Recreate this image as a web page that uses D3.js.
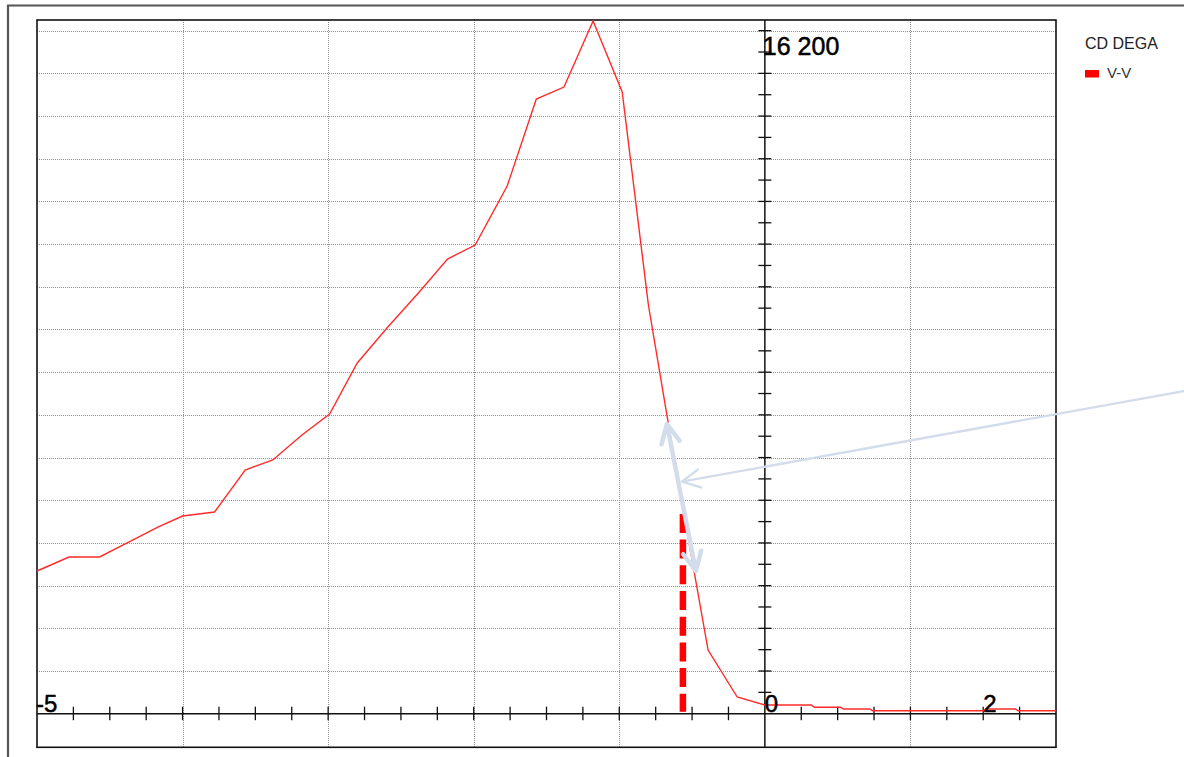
<!DOCTYPE html>
<html><head><meta charset="utf-8">
<script src="https://cdn.jsdelivr.net/npm/d3@7/dist/d3.min.js"></script>
<style>
body{margin:0;background:#fff;}
svg{display:block;font-family:"Liberation Sans",Arial,sans-serif;}
</style>
</head><body>
<svg id="chart" width="1184" height="757"></svg>
<script>
// ---- data ----
const legendTitle = "CD DEGA";
const seriesName = "V-V";
const xValues = [-5.00,-4.78,-4.57,-4.37,-4.17,-4.00,-3.78,-3.57,-3.38,-3.18,-2.99,-2.80,-2.59,-2.38,-2.18,-1.99,-1.77,-1.57,-1.38,-1.18,-0.98,-0.80,-0.60,-0.39,-0.19,0.00,0.32,0.34,0.52,0.54,0.72,0.74,1.50,1.52,1.72,1.74,2.00];
const yValues = [3343,3671,3671,4022,4373,4631,4725,5709,5943,6528,7020,8215,9058,9855,10651,10979,12361,14399,14680,16226,14563,9574,5521,1492,391,204,204,150,150,110,110,70,70,110,110,70,70];
const xDomain = [-5, 2];
const yDomain = [-787, 16250];
const xGridValues = [-4, -3, -2, -1, 1];
const yGridValues = [1000,2000,3000,4000,5000,6000,7000,8000,9000,10000,11000,12000,13000,14000,15000,16000];
const xTickValues = [-4.75,-4.5,-4.25,-4,-3.75,-3.5,-3.25,-3,-2.75,-2.5,-2.25,-2,-1.75,-1.5,-1.25,-1,-0.75,-0.5,-0.25,0.25,0.5,0.75,1,1.25,1.5,1.75];
const yTickValues = [500,1000,1500,2000,2500,3000,3500,4000,4500,5000,5500,6000,6500,7000,7500,8000,8500,9000,9500,10000,10500,11000,11500,12000,12500,13000,13500,14000,14500,15000,15500,16000];
const xTickLabels = ["-5", "0", "2"];
const xTickLabelValues = [-5, 0, 1.5];
const yTopLabel = "16 200";
const yTopLabelValue = 15420;
const markerX = -0.563;
const markerTop = 4680;
const pointerArrow = [[2.878, 7559], [-0.570, 5435]];
const spanArrow = [[-0.673, 6786], [-0.474, 3343]];

// ---- layout ----
const svg = d3.select("#chart");
const x = d3.scaleLinear().domain(xDomain).range([37, 1056]);
const y = d3.scaleLinear().domain([0, 16250]).range([713.7, 20]);
const pTop = y(yDomain[1]), pBottom = y(yDomain[0]);
const pLeft = x(xDomain[0]), pRight = x(xDomain[1]);

// outer gray frame
svg.append("path").attr("d", `M8,757V5.5H1184`).attr("fill","none")
  .attr("stroke","#555").attr("stroke-width",2.2);

// gridlines
const grid = svg.append("g").attr("stroke","#909090").attr("stroke-width",1).attr("stroke-dasharray","1,1");
grid.selectAll(".gy").data(yGridValues).join("line")
  .attr("x1",pLeft).attr("x2",pRight).attr("y1",d=>Math.round(y(d))+0.5).attr("y2",d=>Math.round(y(d))+0.5);
grid.selectAll(".gx").data(xGridValues).join("line")
  .attr("y1",pTop).attr("y2",pBottom).attr("x1",d=>Math.round(x(d))+0.5).attr("x2",d=>Math.round(x(d))+0.5);

// plot frame
svg.append("rect").attr("x",pLeft).attr("y",pTop).attr("width",pRight-pLeft).attr("height",pBottom-pTop)
  .attr("fill","none").attr("stroke","#111").attr("stroke-width",1.6);

// axes
const axes = svg.append("g").attr("stroke","#111");
axes.append("line").attr("x1",pLeft).attr("x2",pRight).attr("y1",y(0)).attr("y2",y(0)).attr("stroke-width",1.5);
axes.append("line").attr("x1",x(0)).attr("x2",x(0)).attr("y1",pTop).attr("y2",pBottom).attr("stroke-width",1.5);
axes.selectAll(".tx").data(xTickValues).join("line")
  .attr("x1",d=>x(d)).attr("x2",d=>x(d)).attr("y1",y(0)-7).attr("y2",y(0)+6.5).attr("stroke-width",1.3);
axes.selectAll(".ty").data(yTickValues).join("line")
  .attr("y1",d=>y(d)).attr("y2",d=>y(d)).attr("x1",x(0)-6.5).attr("x2",x(0)+6.5).attr("stroke-width",1.3);

// series line
svg.append("path").datum(xValues.map((v,i)=>[v,yValues[i]]))
  .attr("fill","none").attr("stroke","#ff2b2b").attr("stroke-width",1.4)
  .attr("d", d3.line().x(d=>x(d[0])).y(d=>y(d[1])));

// dashed marker (drawn top to bottom so both ends are dashes)
svg.append("line").attr("x1",x(markerX)).attr("x2",x(markerX)).attr("y1",y(markerTop)).attr("y2",y(0)-2)
  .attr("stroke","#ff0000").attr("stroke-width",6.5).attr("stroke-dasharray","19,6.7");

// labels
svg.selectAll(".xl").data(xTickLabels).join("text")
  .attr("x",(d,i)=>x(xTickLabelValues[i]) + (i===0 ? -1 : 0)).attr("y",y(0)-2)
  .attr("font-size",24).attr("fill","#000").attr("stroke","#000").attr("stroke-width",0.5).text(d=>d);
svg.append("text").attr("x",x(0)-2).attr("y",y(yTopLabelValue)).attr("font-size",25)
  .attr("fill","#000").attr("stroke","#000").attr("stroke-width",0.5).text(yTopLabel);

// legend
svg.append("text").attr("x",1085).attr("y",48.5).attr("font-size",16).attr("fill","#222").text(legendTitle);
svg.append("rect").attr("x",1085).attr("y",70).attr("width",14).attr("height",7.5).attr("fill","#ff0000");
svg.append("text").attr("x",1107).attr("y",77.5).attr("font-size",15).attr("fill","#333").text(seriesName);

// annotation arrows
function barbs(tip, tail, len, ang){
  const dx = tail[0]-tip[0], dy = tail[1]-tip[1];
  const L = Math.hypot(dx,dy), ux = dx/L, uy = dy/L;
  const a = ang*Math.PI/180;
  const r = (s)=>[tip[0] + len*(ux*Math.cos(s*a) - uy*Math.sin(s*a)), tip[1] + len*(ux*Math.sin(s*a) + uy*Math.cos(s*a))];
  const b1 = r(1), b2 = r(-1);
  return `M${b1[0]},${b1[1]}L${tip[0]},${tip[1]}L${b2[0]},${b2[1]}`;
}
const arrowColor = "#d2dcea";
{
  const p0 = [x(pointerArrow[0][0]), y(pointerArrow[0][1])];
  const p1 = [x(pointerArrow[1][0]), y(pointerArrow[1][1])];
  svg.append("path").attr("d",`M${p0[0]},${p0[1]}L${p1[0]},${p1[1]}` + barbs(p1,p0,20,27))
    .attr("fill","none").attr("stroke",arrowColor).attr("stroke-width",2.3).attr("stroke-linecap","round").attr("stroke-linejoin","round");
}
{
  const p0 = [x(spanArrow[0][0]), y(spanArrow[0][1])];
  const p1 = [x(spanArrow[1][0]), y(spanArrow[1][1])];
  svg.append("path").attr("d",`M${p0[0]},${p0[1]}L${p1[0]},${p1[1]}` + barbs(p1,p0,21,26) + barbs(p0,p1,21,26))
    .attr("fill","none").attr("stroke",arrowColor).attr("stroke-width",4.5).attr("stroke-linecap","round").attr("stroke-linejoin","round");
}
</script>
</body></html>
